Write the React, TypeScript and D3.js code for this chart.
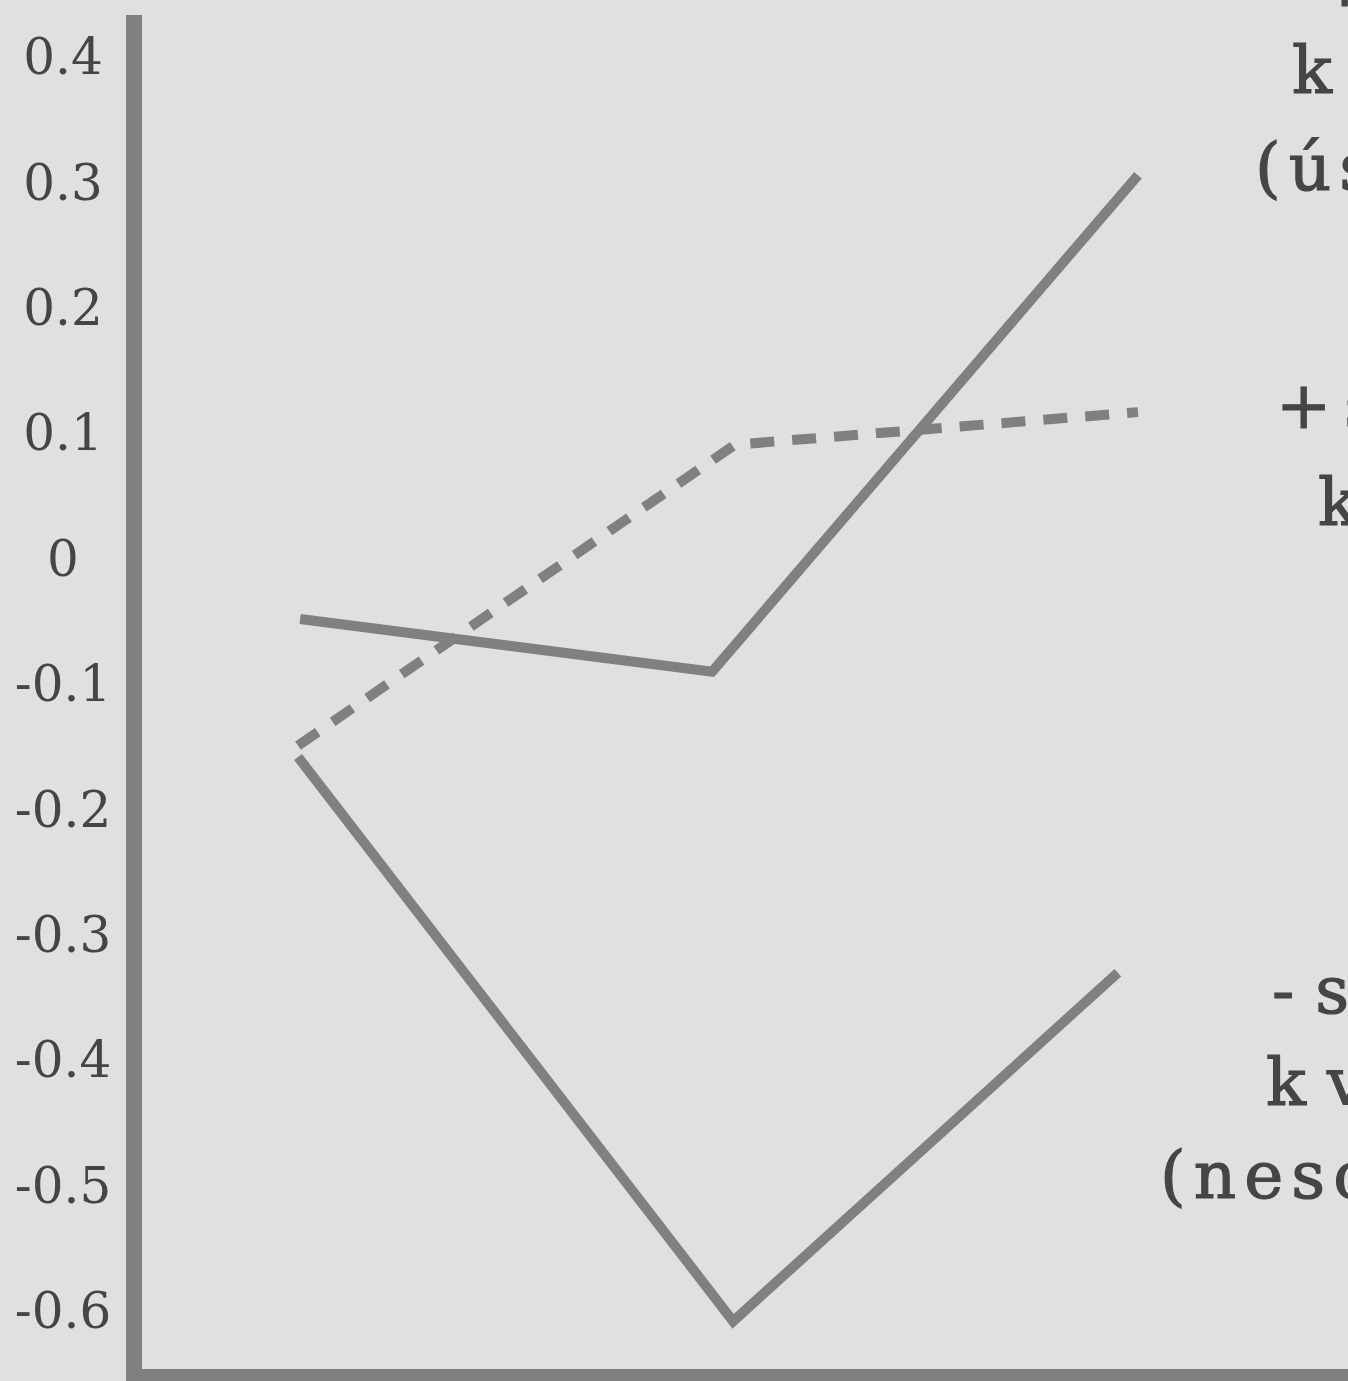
import React, {Component, createRef} from 'react';
import {select, scaleLinear, line, curveLinear} from 'd3';

// y ticks
const tickValues = [0.4, 0.3, 0.2, 0.1, 0, -0.1, -0.2, -0.3, -0.4, -0.5, -0.6];
const tickLabels = ['0.4', '0.3', '0.2', '0.1', '0', '-0.1', '-0.2', '-0.3', '-0.4', '-0.5', '-0.6'];

// three series, x is a step position 0..2
const stepUp = [0.005, 0.986, 2];
const valuesUp = [-0.049, -0.091, 0.305];
const stepDashed = [0, 1.04, 2];
const valuesDashed = [-0.15, 0.09, 0.116];
const stepDown = [0, 1.036, 1.952];
const valuesDown = [-0.159, -0.609, -0.331];

// side labels (cut off by the right edge in the original)
const labelUp = ['+ sebe', 'k ostatním', '(úspěšní)'];
const labelFlat = ['+ sebe', 'k sobě'];
const labelDown = ['- sebe', 'k víře', '(neschopní)'];

const W = 1348;
const H = 1381;
const GREY = '#808080';
const INK = '#454545';

/**
 line chart on paper background
 */
class App extends Component {
  constructor(props) {
    super(props);
    this.box = createRef();
  }
  render() {
    return (
      <div ref={this.box} style={{position: 'absolute', left: 0, top: 0, width: W, height: H}}></div>
    )
  }
  componentDidMount() {
    let me = this;
    document.body.style.margin = '0';
    select(me.box.current).selectAll('*').remove();

    let svg = select(me.box.current)
      .append('svg')
      .attr('width', W)
      .attr('height', H)
      .style('display', 'block');

    svg.append('rect')
      .attr('width', W)
      .attr('height', H)
      .attr('fill', '#dfe0e2');

    me.x = scaleLinear().domain([0, 2]).range([298, 1138]);
    me.y = scaleLinear().domain([-0.6, 0.4]).range([1310, 56]);

    me._drawAxis(svg);
    me._drawSeries(svg, stepUp, valuesUp, null);
    me._drawSeries(svg, stepDashed, valuesDashed, '24 18');
    me._drawSeries(svg, stepDown, valuesDown, null);
    me._drawLabel(svg, labelUp, [1317, 1292, 1255], [6, 93, 190], -16);
    me._drawLabel(svg, labelFlat, [1276, 1318], [428, 525], -24);
    me._drawLabel(svg, labelDown, [1272, 1266, 1160], [1013, 1105, 1198], -16);
  }

  _drawAxis(svg) {
    let me = this;
    let size = 50;
    svg.append('g')
      .selectAll('text')
      .data(tickValues)
      .enter()
      .append('text')
      .attr('x', 63)
      .attr('y', d => me.y(d) + size * 0.365)
      .attr('text-anchor', 'middle')
      .attr('font-family', '"DejaVu Serif", serif')
      .attr('font-size', size)
      .attr('fill', INK)
      .text((d, i) => tickLabels[i]);

    // frame: left and bottom thick bars
    svg.append('rect')
      .attr('x', 126)
      .attr('y', 15)
      .attr('width', 16)
      .attr('height', H - 15)
      .attr('fill', GREY);
    svg.append('rect')
      .attr('x', 126)
      .attr('y', 1369)
      .attr('width', W - 126)
      .attr('height', 16)
      .attr('fill', GREY);
  }

  _drawSeries(svg, steps, values, dash) {
    let me = this;
    let path = line()
      .x(d => me.x(d[0]))
      .y(d => me.y(d[1]))
      .curve(curveLinear);
    let points = steps.map((s, i) => [s, values[i]]);
    let p = svg.append('path')
      .attr('d', path(points))
      .attr('fill', 'none')
      .attr('stroke', GREY)
      .attr('stroke-width', 10)
      .attr('stroke-linecap', 'butt')
      .attr('stroke-linejoin', 'miter');
    if (dash) p.attr('stroke-dasharray', dash);
  }

  _drawLabel(svg, lines, xs, ys, wordGap) {
    svg.append('g')
      .selectAll('text')
      .data(lines)
      .enter()
      .append('text')
      .attr('x', (d, i) => xs[i])
      .attr('y', (d, i) => ys[i])
      .attr('font-family', '"DejaVu Serif", serif')
      .attr('font-size', 66)
      .attr('letter-spacing', 8)
      .attr('word-spacing', wordGap)
      .attr('fill', INK)
      .attr('stroke', INK)
      .attr('stroke-width', 1.2)
      .text(d => d);
  }

  componentWillUnmount() {
    select(this.box.current).selectAll('*').remove();
  }
}

export default App;
